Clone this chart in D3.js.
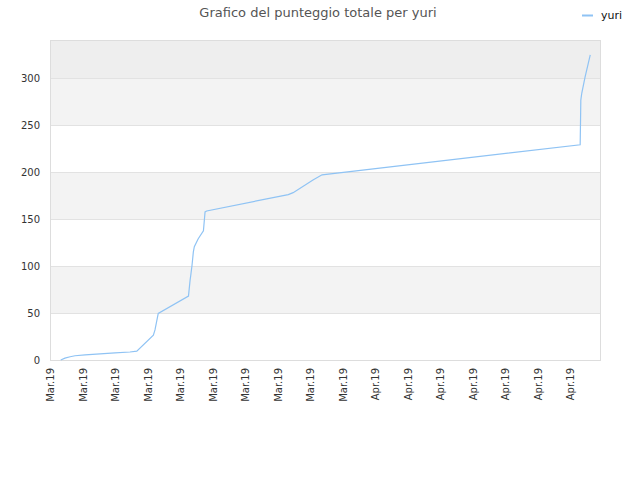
<!DOCTYPE html>
<html>
<head>
<meta charset="utf-8">
<script src="https://cdn.jsdelivr.net/npm/d3@7"></script>
<style>
  body { margin: 0; background: #fff; }
  svg { font-family: "DejaVu Sans", sans-serif; }
</style>
</head>
<body>
<div id="chart"></div>
<script>
// x positions are in "tick units": tick i sits at x = i
const tickLabels = ['Mar.19', 'Mar.19', 'Mar.19', 'Mar.19', 'Mar.19', 'Mar.19', 'Mar.19', 'Mar.19',
  'Mar.19', 'Mar.19', 'Apr.19', 'Apr.19', 'Apr.19', 'Apr.19', 'Apr.19', 'Apr.19', 'Apr.19'];
const xValues = [0.33, 0.46, 0.62, 0.77, 1.08, 1.54, 2.0, 2.46, 2.67, 3.18, 3.23, 3.33, 4.26, 4.31,
  4.33, 4.37, 4.41, 4.44, 4.56, 4.72, 4.77, 4.82, 7.33, 7.48, 8.09, 8.37, 16.31, 16.32, 16.33,
  16.36, 16.46, 16.62];
const yValues = [0, 2, 3.5, 4.5, 5.5, 6.5, 7.5, 8.5, 9.5, 26.5, 32, 49.5, 68, 85, 90, 101, 115,
  120.5, 129, 137.5, 157.5, 158.5, 176, 178, 191.5, 197, 229, 252, 276.5, 284, 301, 324.5];
const yTicks = [0, 50, 100, 150, 200, 250, 300];
const seriesName = 'yuri';
const title = 'Grafico del punteggio totale per yuri';

const width = 640, height = 480;
const margin = { left: 50, right: 40, top: 40, bottom: 120 };

const svg = d3.select('#chart')
  .append('svg')
  .attr('width', width)
  .attr('height', height);

const x = d3.scaleLinear()
  .domain([0, 16.92])
  .range([margin.left, width - margin.right]);

const y = d3.scaleLinear()
  .domain([0, 340.4])
  .range([height - margin.bottom, margin.top]);

// background bands
const bands = [[0, 50], [50, 100], [100, 150], [150, 200], [200, 250], [250, 300], [300, 340.4]];
svg.selectAll('rect.band')
  .data(bands)
  .join('rect')
  .classed('band', true)
  .attr('x', x(0))
  .attr('width', x(16.92) - x(0))
  .attr('y', d => y(d[1]))
  .attr('height', d => y(d[0]) - y(d[1]))
  .attr('fill', (d, i) => i === 6 ? '#eeeeee' : (i % 2 ? '#f3f3f3' : '#ffffff'));

// grid lines
svg.selectAll('line.grid')
  .data(yTicks.slice(1))
  .join('line')
  .classed('grid', true)
  .attr('x1', x(0))
  .attr('x2', x(16.92))
  .attr('y1', d => y(d) + 0.5)
  .attr('y2', d => y(d) + 0.5)
  .attr('stroke', '#e2e2e2');

// frame
svg.append('rect')
  .attr('x', x(0) + 0.5)
  .attr('y', y(340.4) + 0.5)
  .attr('width', x(16.92) - x(0))
  .attr('height', y(0) - y(340.4))
  .attr('fill', 'none')
  .attr('stroke', '#dddddd');

// y axis
const yAxis = svg.append('g')
  .attr('transform', `translate(${x(0)},0)`)
  .call(d3.axisLeft(y).tickValues(yTicks).tickSize(0).tickPadding(10));
yAxis.select('.domain').remove();
yAxis.selectAll('text')
  .attr('fill', '#333')
  .style('font-size', '10px')
  .style('font-family', '"DejaVu Sans", sans-serif');

// x axis
const xAxis = svg.append('g')
  .attr('transform', `translate(0,${y(0)})`)
  .call(d3.axisBottom(x)
    .tickValues(d3.range(tickLabels.length))
    .tickFormat(i => tickLabels[i])
    .tickSize(0));
xAxis.select('.domain').remove();
xAxis.selectAll('text')
  .attr('fill', '#333')
  .style('font-size', '10px')
  .style('font-family', '"DejaVu Sans", sans-serif')
  .attr('text-anchor', 'end')
  .attr('transform', 'rotate(-90)')
  .attr('x', -8)
  .attr('y', 0)
  .attr('dy', '0.35em');

// series line
const points = xValues.map((v, i) => [v, yValues[i]]);
svg.append('path')
  .datum(points)
  .attr('fill', 'none')
  .attr('stroke', '#8fc3f4')
  .attr('stroke-width', 1.2)
  .attr('d', d3.line().x(d => x(d[0])).y(d => y(d[1])));

// title
svg.append('text')
  .attr('x', 318)
  .attr('y', 17)
  .attr('text-anchor', 'middle')
  .attr('fill', '#555')
  .style('font-size', '13px')
  .text(title);

// legend
svg.append('line')
  .attr('x1', 582).attr('x2', 593)
  .attr('y1', 15.5).attr('y2', 15.5)
  .attr('stroke', '#8fc3f4')
  .attr('stroke-width', 2);
svg.append('text')
  .attr('x', 601)
  .attr('y', 19)
  .attr('fill', '#111')
  .style('font-size', '11px')
  .text(seriesName);
</script>
</body>
</html>
